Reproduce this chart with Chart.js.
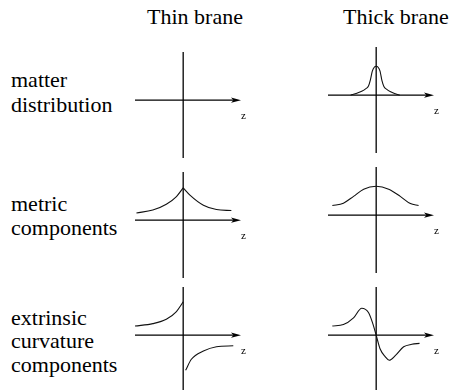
<!DOCTYPE html>
<html><head><meta charset="utf-8">
<script src="https://cdn.jsdelivr.net/npm/chart.js@4.4.1/dist/chart.umd.min.js"></script>
<style>
html,body{margin:0;padding:0;background:#fff;width:453px;height:390px;overflow:hidden;}
.lbl{position:absolute;font-family:"Liberation Serif","Times New Roman",serif;font-size:22px;line-height:24px;color:#000;white-space:nowrap;}
canvas{position:absolute;width:122px;height:122px;}
</style></head><body>
<div class="lbl" style="left:147px;top:5px">Thin brane</div>
<div class="lbl" style="left:343px;top:5px">Thick brane</div>
<div class="lbl" style="left:11px;top:67.5px">matter</div>
<div class="lbl" style="left:11px;top:92.5px">distribution</div>
<div class="lbl" style="left:11px;top:191.5px">metric</div>
<div class="lbl" style="left:11px;top:215.5px">components</div>
<div class="lbl" style="left:11px;top:305.5px">extrinsic</div>
<div class="lbl" style="left:11px;top:328.5px">curvature</div>
<div class="lbl" style="left:11px;top:352.5px">components</div>

<canvas id="p1" width="122" height="122" style="left:127px;top:44px"></canvas>
<canvas id="p2" width="122" height="122" style="left:320px;top:39px"></canvas>
<canvas id="p3" width="122" height="122" style="left:127px;top:164px"></canvas>
<canvas id="p4" width="122" height="122" style="left:320px;top:159px"></canvas>
<canvas id="p5" width="122" height="122" style="left:127px;top:279px"></canvas>
<canvas id="p6" width="122" height="122" style="left:320px;top:279px"></canvas>

<script>
// axis limits (schematic units)
const zLimits = [-1, 1.2];
const vLimits = [-1.2, 1];
const axisLabel = 'z';

// thick brane: matter distribution
const thickMatterZ = [-0.53,-0.4,-0.3,-0.22,-0.16,-0.12,-0.08,-0.04,0,0.04,0.08,0.12,0.16,0.22,0.3,0.4,0.49];
const thickMatterV = [0,0.04,0.08,0.13,0.19,0.32,0.5,0.58,0.6,0.58,0.5,0.3,0.18,0.12,0.07,0.03,0];

// thin brane: metric components (cusp at z=0)
const thinMetricLeftZ = [-0.97,-0.63,-0.35,-0.14,0];
const thinMetricLeftV = [0.15,0.21,0.33,0.49,0.67];
const thinMetricRightZ = [0,0.14,0.42,0.69,1.0];
const thinMetricRightV = [0.67,0.52,0.31,0.22,0.2];

// thick brane: metric components
const thickMetricZ = [-0.91,-0.68,-0.47,-0.26,0,0.26,0.5,0.71,0.88];
const thickMetricV = [0.2,0.25,0.39,0.54,0.6,0.54,0.39,0.24,0.2];

// thin brane: extrinsic curvature (jump at z=0)
const thinCurvLeftZ = [-1.0,-0.63,-0.35,-0.14,0];
const thinCurvLeftV = [0.19,0.24,0.33,0.49,0.69];
const thinCurvRightZ = [0.05,0.17,0.42,0.69,1.04];
const thinCurvRightV = [-0.73,-0.5,-0.33,-0.24,-0.22];

// thick brane: extrinsic curvature
const thickCurvZ = [-0.91,-0.68,-0.47,-0.3,-0.16,-0.07,0,0.08,0.19,0.27,0.4,0.57,0.74,0.9];
const thickCurvV = [0.19,0.22,0.36,0.56,0.47,0.24,0,-0.28,-0.45,-0.52,-0.42,-0.24,-0.19,-0.17];

function pts(zs, vs){ return zs.map((z,i)=>({x:z, y:vs[i]})); }

const axesPlugin = {
  id: 'axesArrow',
  beforeDatasetsDraw(chart){
    const ctx = chart.ctx, xs = chart.scales.x, ys = chart.scales.y;
    const x0 = xs.getPixelForValue(0), y0 = ys.getPixelForValue(0);
    const xl = xs.getPixelForValue(xs.min), xr = xs.getPixelForValue(xs.max);
    const yt = ys.getPixelForValue(ys.max), yb = ys.getPixelForValue(ys.min);
    ctx.save();
    ctx.strokeStyle = '#000';
    ctx.lineWidth = 1.3;
    ctx.beginPath(); ctx.moveTo(x0, yt); ctx.lineTo(x0, yb); ctx.stroke();
    ctx.beginPath(); ctx.moveTo(xl, y0); ctx.lineTo(xr - 5, y0); ctx.stroke();
    ctx.fillStyle = '#000';
    ctx.beginPath();
    ctx.moveTo(xr, y0);
    ctx.lineTo(xr - 10, y0 - 2.6);
    ctx.lineTo(xr - 7.5, y0);
    ctx.lineTo(xr - 10, y0 + 2.6);
    ctx.closePath(); ctx.fill();
    ctx.font = '11px "Liberation Serif", "Times New Roman", serif';
    ctx.textAlign = 'left';
    ctx.textBaseline = 'alphabetic';
    ctx.fillText(axisLabel, xr, y0 + 19);
    ctx.restore();
  }
};

function makePanel(id, seriesList){
  new Chart(document.getElementById(id), {
    type: 'scatter',
    data: {
      datasets: seriesList.map(s => ({
        data: pts(s[0], s[1]),
        showLine: true,
        borderColor: '#111',
        borderWidth: 1.1,
        pointRadius: 0,
        cubicInterpolationMode: 'monotone',
        fill: false,
        clip: false
      }))
    },
    options: {
      responsive: false,
      animation: false,
      devicePixelRatio: 1,
      events: [],
      layout: { padding: 8 },
      plugins: { legend: { display: false }, tooltip: { enabled: false } },
      scales: {
        x: { type: 'linear', min: zLimits[0], max: zLimits[1], display: false },
        y: { type: 'linear', min: vLimits[0], max: vLimits[1], display: false }
      }
    },
    plugins: [axesPlugin]
  });
}

makePanel('p1', []);
makePanel('p2', [[thickMatterZ, thickMatterV]]);
makePanel('p3', [[thinMetricLeftZ, thinMetricLeftV], [thinMetricRightZ, thinMetricRightV]]);
makePanel('p4', [[thickMetricZ, thickMetricV]]);
makePanel('p5', [[thinCurvLeftZ, thinCurvLeftV], [thinCurvRightZ, thinCurvRightV]]);
makePanel('p6', [[thickCurvZ, thickCurvV]]);
</script>
</body></html>
